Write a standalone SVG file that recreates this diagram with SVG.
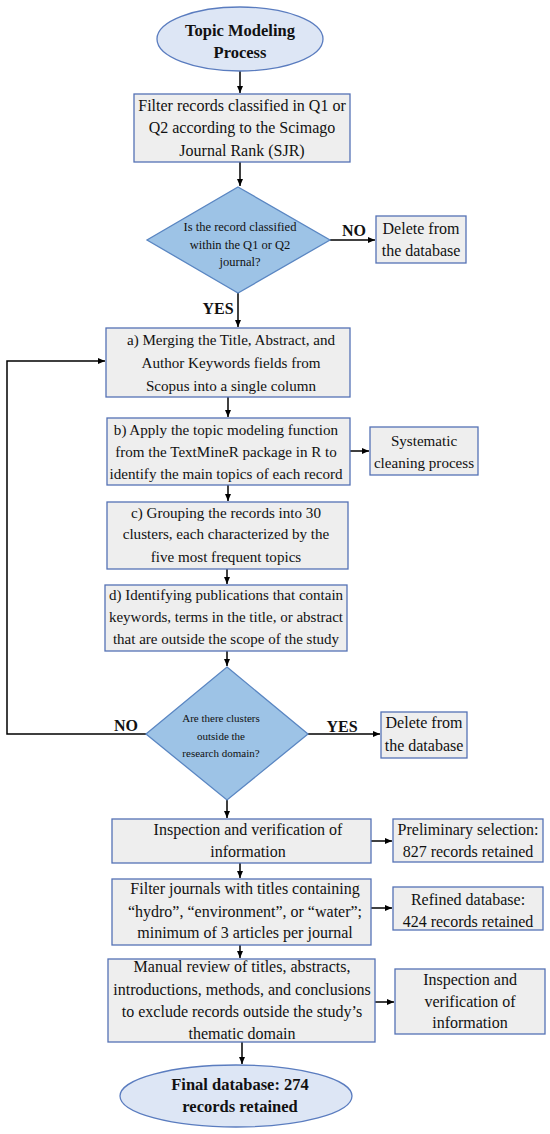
<svg xmlns="http://www.w3.org/2000/svg" width="550" height="1134" viewBox="0 0 550 1134">
<defs>
<marker id="ah" markerWidth="8" markerHeight="8" refX="7" refY="4" orient="auto" markerUnits="userSpaceOnUse">
<path d="M0,1 L7,4 L0,7 Z" fill="#000"/>
</marker>
<style>
.box{fill:#eeeeee;stroke:#5572b5;stroke-width:1.3}
.ell{fill:#dde6f5;stroke:#5a7cbf;stroke-width:1.3}
.dia{fill:#9dc3e6;stroke:#5a86c2;stroke-width:1.3}
.t{font-family:"Liberation Serif","Times New Roman",serif;font-size:16px;fill:#111;text-anchor:middle}
.s{font-size:15.1px}
.td{font-family:"Liberation Serif","Times New Roman",serif;font-size:12.5px;fill:#111;text-anchor:middle}
.td2{font-size:11px}
.tb{font-family:"Liberation Serif","Times New Roman",serif;font-size:16.5px;font-weight:bold;fill:#111;text-anchor:middle}
.lb{font-family:"Liberation Serif","Times New Roman",serif;font-size:16px;font-weight:bold;fill:#111;text-anchor:middle}
.c{fill:none;stroke:#000;stroke-width:1.5}
</style>
</defs>
<rect width="550" height="1134" fill="#fff"/>
<g id="connectors">
<line class="c" x1="240" y1="71" x2="240" y2="93" marker-end="url(#ah)"/>
<line class="c" x1="240" y1="162" x2="240" y2="186" marker-end="url(#ah)"/>
<line class="c" x1="330" y1="240" x2="375" y2="240" marker-end="url(#ah)"/>
<line class="c" x1="238" y1="293" x2="238" y2="327" marker-end="url(#ah)"/>
<line class="c" x1="228" y1="397" x2="228" y2="417" marker-end="url(#ah)"/>
<line class="c" x1="350" y1="451" x2="369" y2="451" marker-end="url(#ah)"/>
<line class="c" x1="228" y1="485" x2="228" y2="501" marker-end="url(#ah)"/>
<line class="c" x1="227" y1="569" x2="227" y2="584" marker-end="url(#ah)"/>
<line class="c" x1="227" y1="651" x2="227" y2="666" marker-end="url(#ah)"/>
<polyline class="c" points="146,734 7,734 7,361 105,361" marker-end="url(#ah)"/>
<line class="c" x1="308" y1="734" x2="380" y2="734" marker-end="url(#ah)"/>
<line class="c" x1="227" y1="800" x2="227" y2="818" marker-end="url(#ah)"/>
<line class="c" x1="371" y1="841" x2="392" y2="841" marker-end="url(#ah)"/>
<line class="c" x1="240" y1="863" x2="240" y2="878" marker-end="url(#ah)"/>
<line class="c" x1="371" y1="908" x2="392" y2="908" marker-end="url(#ah)"/>
<line class="c" x1="240" y1="945" x2="240" y2="958" marker-end="url(#ah)"/>
<line class="c" x1="375" y1="1002" x2="394" y2="1002" marker-end="url(#ah)"/>
<line class="c" x1="242" y1="1042" x2="242" y2="1064" marker-end="url(#ah)"/>
<text class="lb" x="354" y="236">NO</text>
<text class="lb" x="218" y="314">YES</text>
<text class="lb" x="126" y="731">NO</text>
<text class="lb" x="342" y="732">YES</text>
</g>
<g id="start">
<ellipse class="ell" cx="240" cy="39" rx="83" ry="32"/>
<text class="tb" x="240" y="36">Topic Modeling</text>
<text class="tb" x="240" y="58">Process</text>
</g>
<g id="filter-sjr">
<rect class="box" x="134" y="94" width="216" height="68"/>
<text class="t" x="242" y="111">Filter records classified in Q1 or</text>
<text class="t" x="242" y="133">Q2 according to the Scimago</text>
<text class="t" x="242" y="156">Journal Rank (SJR)</text>
</g>
<g id="decision-q1q2">
<polygon class="dia" points="238,187 330,240 238,293 147,240"/>
<text class="td" x="240" y="231">Is the record classified</text>
<text class="td" x="240" y="249">within the Q1 or Q2</text>
<text class="td" x="240" y="266">journal?</text>
</g>
<g id="delete-1">
<rect class="box" x="376" y="216" width="90" height="47"/>
<text class="t" x="421" y="234">Delete from</text>
<text class="t" x="421" y="256">the database</text>
</g>
<g id="step-a">
<rect class="box" x="106" y="328" width="244" height="69"/>
<text class="t s" x="231" y="345">a) Merging the Title, Abstract, and</text>
<text class="t s" x="231" y="368">Author Keywords fields from</text>
<text class="t s" x="231" y="391">Scopus into a single column</text>
</g>
<g id="step-b">
<rect class="box" x="107" y="418" width="243" height="67"/>
<text class="t s" x="226" y="435">b) Apply the topic modeling function</text>
<text class="t s" x="226" y="457">from the TextMineR package in R to</text>
<text class="t s" x="226" y="479">identify the main topics of each record</text>
</g>
<g id="systematic">
<rect class="box" x="370" y="427" width="108" height="48"/>
<text class="t s" x="424" y="446">Systematic</text>
<text class="t s" x="424" y="468">cleaning process</text>
</g>
<g id="step-c">
<rect class="box" x="107" y="502" width="241" height="67"/>
<text class="t s" x="226" y="518">c) Grouping the records into 30</text>
<text class="t s" x="226" y="539">clusters, each characterized by the</text>
<text class="t s" x="226" y="562">five most frequent topics</text>
</g>
<g id="step-d">
<rect class="box" x="105" y="585" width="242" height="66"/>
<text class="t" style="font-size:15px" x="226" y="600">d) Identifying publications that contain</text>
<text class="t" style="font-size:15px" x="226" y="622">keywords, terms in the title, or abstract</text>
<text class="t" style="font-size:15px" x="226" y="644">that are outside the scope of the study</text>
</g>
<g id="decision-clusters">
<polygon class="dia" points="227,667 308,734 227,800 146,734"/>
<text class="td td2" x="221" y="722">Are there clusters</text>
<text class="td td2" x="221" y="740">outside the</text>
<text class="td td2" x="221" y="757">research domain?</text>
</g>
<g id="delete-2">
<rect class="box" x="381" y="712" width="86" height="46"/>
<text class="t" x="424" y="728">Delete from</text>
<text class="t" x="424" y="751">the database</text>
</g>
<g id="inspection-1">
<rect class="box" x="112" y="819" width="259" height="44"/>
<text class="t" x="248" y="835">Inspection and verification of</text>
<text class="t" x="248" y="857">information</text>
</g>
<g id="preliminary">
<rect class="box" x="393" y="819" width="150" height="43"/>
<text class="t" x="468" y="835">Preliminary selection:</text>
<text class="t" x="468" y="857">827 records retained</text>
</g>
<g id="filter-journals">
<rect class="box" x="112" y="879" width="259" height="66"/>
<text class="t" x="245" y="894">Filter journals with titles containing</text>
<text class="t" x="245" y="917">“hydro”, “environment”, or “water”;</text>
<text class="t" x="245" y="938">minimum of 3 articles per journal</text>
</g>
<g id="refined">
<rect class="box" x="393" y="887" width="150" height="43"/>
<text class="t" x="468" y="905">Refined database:</text>
<text class="t" x="468" y="927">424 records retained</text>
</g>
<g id="manual-review">
<rect class="box" x="108" y="959" width="267" height="83"/>
<text class="t" x="242" y="972">Manual review of titles, abstracts,</text>
<text class="t" x="242" y="995">introductions, methods, and conclusions</text>
<text class="t" x="242" y="1017">to exclude records outside the study’s</text>
<text class="t" x="242" y="1039">thematic domain</text>
</g>
<g id="inspection-2">
<rect class="box" x="395" y="969" width="150" height="65"/>
<text class="t" x="470" y="985">Inspection and</text>
<text class="t" x="470" y="1007">verification of</text>
<text class="t" x="470" y="1028">information</text>
</g>
<g id="end">
<ellipse class="ell" cx="236" cy="1096" rx="116" ry="31"/>
<text class="tb" x="240" y="1090">Final database: 274</text>
<text class="tb" x="240" y="1112">records retained</text>
</g>
</svg>
